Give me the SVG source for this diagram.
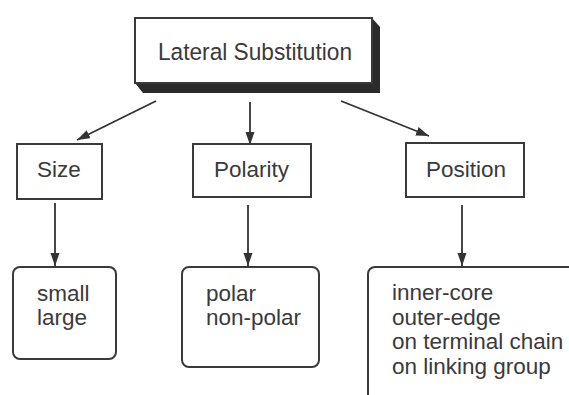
<svg xmlns="http://www.w3.org/2000/svg" width="569" height="395" viewBox="0 0 569 395">
<defs>
<marker id="ah" markerUnits="userSpaceOnUse" markerWidth="14" markerHeight="10" refX="13" refY="4.5" orient="auto">
<path d="M0,0 L13,4.5 L0,9 Z" fill="#333"/>
</marker>
<style>
.t{font-family:"Liberation Sans",Arial,Helvetica,sans-serif;fill:#3a3a3a;font-size:22.5px}
.box{fill:#fff;stroke:#3a3a3a;stroke-width:2}
.rbox{fill:#fff;stroke:#3a3a3a;stroke-width:2}
.c{stroke:#333;stroke-width:1.8;fill:none;marker-end:url(#ah)}
</style>
</defs>
<rect width="569" height="395" fill="#fff"/>
<g id="connectors">
<line class="c" x1="156" y1="101" x2="77" y2="140"/>
<line class="c" x1="250" y1="102" x2="250" y2="145"/>
<line class="c" x1="341" y1="101" x2="429" y2="136"/>
<line class="c" x1="55" y1="203" x2="55" y2="266"/>
<line class="c" x1="248" y1="205" x2="248" y2="266"/>
<line class="c" x1="462" y1="205" x2="462" y2="266"/>
</g>
<g id="lateral-substitution">
<polygon points="372,18 380,27 380,93 143,93 135,83 372,83" fill="#2b2b2b"/>
<rect class="box" x="135" y="18" width="237" height="65"/>
<text class="t" x="255" y="60" text-anchor="middle" style="font-size:24.5px" textLength="194" lengthAdjust="spacingAndGlyphs">Lateral Substitution</text>
</g>
<g id="size">
<rect class="box" x="17" y="144" width="85" height="55"/>
<text class="t" x="59" y="177" text-anchor="middle">Size</text>
</g>
<g id="polarity">
<rect class="box" x="193" y="144" width="118" height="53"/>
<text class="t" x="251.5" y="177" text-anchor="middle">Polarity</text>
</g>
<g id="position">
<rect class="box" x="406" y="143" width="118" height="54"/>
<text class="t" x="466" y="177" text-anchor="middle">Position</text>
</g>
<g id="size-values">
<rect class="rbox" x="13" y="267" width="103" height="92" rx="7"/>
<text class="t" x="37" y="300.5">small</text>
<text class="t" x="37" y="324.5">large</text>
</g>
<g id="polarity-values">
<rect class="rbox" x="182" y="267" width="137" height="100" rx="7"/>
<text class="t" x="206" y="300.5">polar</text>
<text class="t" x="206" y="324.5">non-polar</text>
</g>
<g id="position-values">
<rect class="rbox" x="368" y="267" width="230" height="150" rx="7"/>
<text class="t" x="392" y="300">inner-core</text>
<text class="t" x="392" y="324.5">outer-edge</text>
<text class="t" x="392" y="349">on terminal chain</text>
<text class="t" x="392" y="373.5">on linking group</text>
</g>
</svg>
